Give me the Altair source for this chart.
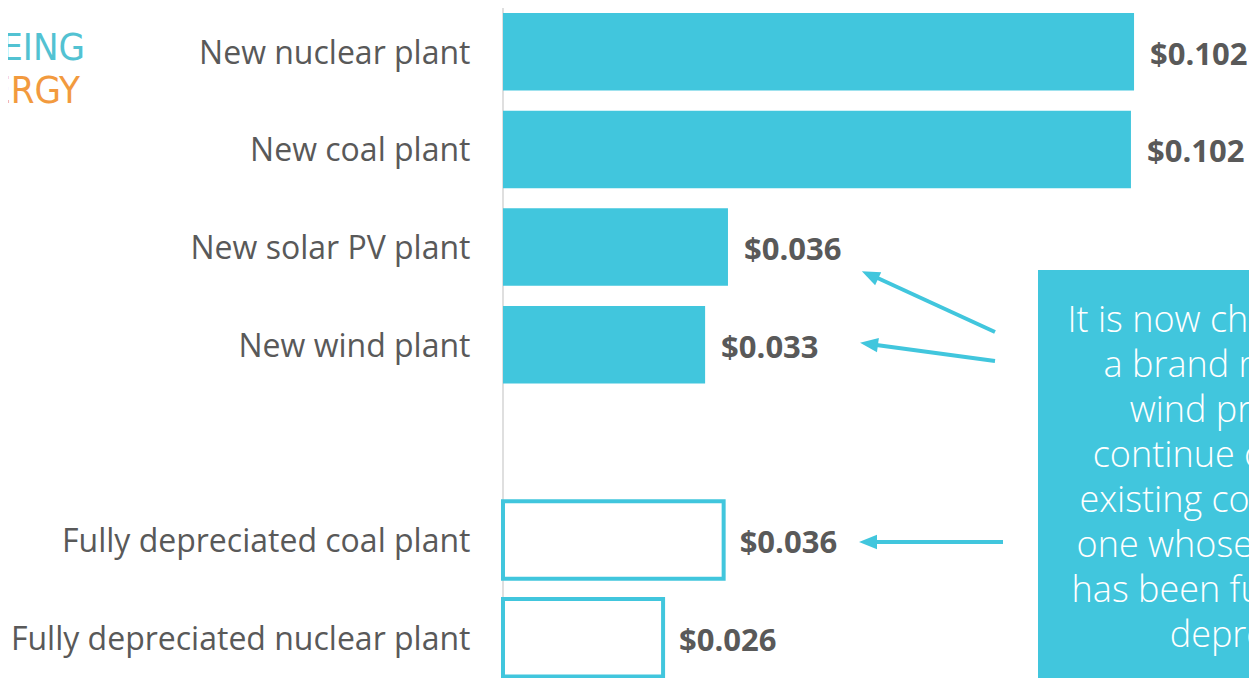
import altair as alt
import pandas as pd

# ---- data ----
categories = [
    "New nuclear plant",
    "New coal plant",
    "New solar PV plant",
    "New wind plant",
    "Fully depreciated coal plant",
    "Fully depreciated nuclear plant",
]
costs = [0.1021, 0.1016, 0.0364, 0.0327, 0.0357, 0.0259]
kinds = ["new", "new", "new", "new", "depreciated", "depreciated"]
axis_order = categories[:4] + [" "] + categories[4:]

note_lines = [
    "It is now cheaper to build",
    "a brand new solar or",
    "wind project than",
    "continue operating an",
    "existing coal plant, even",
    "one whose construction",
    "has been fully paid off or",
    "depreciated.",
]
logo_top = "SEEING"
logo_bottom = "ENERGY"

TEAL = "#41C6DD"
GRAY = "#595959"

df = pd.DataFrame({"plant": categories, "cost": costs, "kind": kinds})
one = pd.DataFrame({"k": [0]})

y = alt.Y(
    "plant:N",
    sort=axis_order,
    scale=alt.Scale(domain=axis_order, range=[5, 668.5], paddingInner=0.2065, paddingOuter=0),
    axis=alt.Axis(
        title=None, ticks=False, grid=False, domain=False,
        labelFontSize=32, labelFont="Open Sans", labelColor=GRAY,
        labelPadding=33, labelLimit=700, labelOffset=2,
    ),
)
x = alt.X("cost:Q", scale=alt.Scale(domain=[0, 0.1207], nice=False, zero=True), axis=None)

base = alt.Chart(df)
axis_line = alt.Chart(one).mark_rule(color="#d4d4d4", strokeWidth=1.5).encode(
    x=alt.value(0), y=alt.value(0), y2=alt.value(670)
)
filled = base.transform_filter("datum.kind == 'new'").mark_bar(color=TEAL).encode(x=x, y=y)
outlined = base.transform_filter("datum.kind == 'depreciated'").mark_bar(
    fill="white", stroke=TEAL, strokeWidth=4
).encode(x=x, y=y)
labels = base.transform_calculate(
    label="'$' + format(datum.cost, '.3f')"
).mark_text(
    align="left", baseline="middle", dx=16, dy=4, font="Open Sans",
    fontSize=31, fontWeight="bold", color=GRAY
).encode(x=x, y=y, text="label:N")

box = alt.Chart(one).mark_rect(color=TEAL).encode(
    x=alt.value(535), x2=alt.value(830), y=alt.value(262), y2=alt.value(700)
)
note = alt.Chart(one).mark_text(
    align="center", baseline="alphabetic", font="Open Sans", fontSize=36,
    fontWeight=300, color="white", lineHeight=45
).encode(x=alt.value(768), y=alt.value(324), text=alt.value(note_lines))

ARROW_PATH = "M -1 0 L 1 -0.8 L 1 0.8 Z"


def arrow(x1, y1, x2, y2, hx, hy, ang):
    shaft = alt.Chart(one).mark_rule(color=TEAL, strokeWidth=4).encode(
        x=alt.value(x1), y=alt.value(y1), x2=alt.value(x2), y2=alt.value(y2)
    )
    head = alt.Chart(one).mark_point(
        shape=ARROW_PATH, filled=True, color=TEAL, opacity=1, size=324, angle=ang, strokeWidth=0
    ).encode(x=alt.value(hx), y=alt.value(hy))
    return [shaft, head]


arrows = []
arrows += arrow(492, 324, 368, 267, 367, 267, 25)
arrows += arrow(492, 353, 366, 336, 366, 336, 7.5)
arrows += arrow(500, 534, 366, 534, 365, 534, 0)

logo1 = alt.Chart(one).mark_text(
    align="right", baseline="alphabetic", font="DejaVu Sans Condensed",
    fontSize=38, fontWeight=300, color="#52C2D2"
).encode(x=alt.value(-418), y=alt.value(52), text=alt.value(logo_top))
logo2 = alt.Chart(one).mark_text(
    align="right", baseline="alphabetic", font="DejaVu Sans Condensed",
    fontSize=38, fontWeight=300, color="#F29A3E"
).encode(x=alt.value(-423), y=alt.value(95), text=alt.value(logo_bottom))

chart = alt.layer(
    axis_line, filled, outlined, labels, box, note, *arrows, logo1, logo2
).properties(
    width=746, height=670,
    autosize=alt.AutoSizeParams(type="none"),
    padding={"left": 495, "top": 0, "right": 0, "bottom": 0},
).configure_view(stroke=None)

chart.save("out.html", embed_options={"renderer": "svg", "actions": False})
